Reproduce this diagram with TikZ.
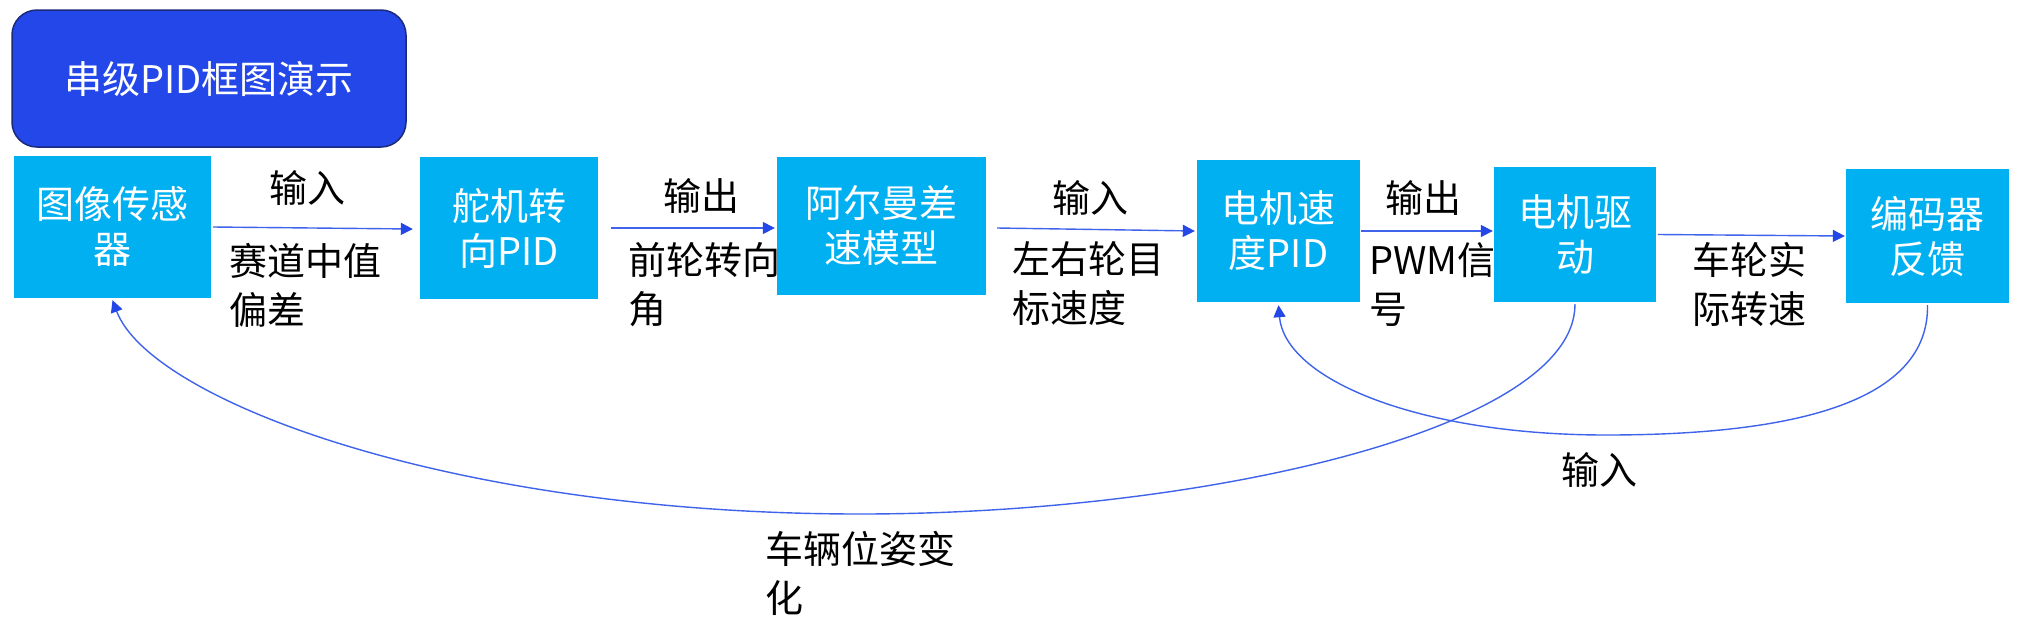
\documentclass[tikz,border=0pt]{standalone}
\usepackage{fontspec}
\newfontfamily\cjk{Noto Sans CJK SC}
\usetikzlibrary{arrows.meta}
\definecolor{boxblue}{HTML}{00B0F0}
\definecolor{titleblue}{HTML}{2347E8}
\definecolor{titleedge}{HTML}{1B2A7A}
\definecolor{arrowblue}{HTML}{2447E8}
\definecolor{lineblue}{HTML}{3F63EA}
\begin{document}
\begin{tikzpicture}[x=1pt,y=-1pt,
  blk/.style={fill=boxblue, draw=none, text=white, font=\cjk\fontsize{38}{45}\selectfont, align=center, inner sep=0pt},
  titlebox/.style={fill=titleblue, draw=titleedge, line width=1.5pt, rounded corners=25pt, text=white, font=\cjk\fontsize{38}{45}\selectfont, inner sep=0pt},
  lbl/.style={text=black, font=\cjk\fontsize{38}{49}\selectfont, align=left, inner sep=0pt},
  arr/.style={draw=lineblue, line width=1.4pt, -{Triangle[length=12pt,width=12pt,color=arrowblue,fill=arrowblue]}},
  ]
\fill[white] (0,0) rectangle (2021,633);

\node[titlebox, minimum width=394pt, minimum height=137pt] (title) at (209,78.5) {串级PID框图演示};

\node[blk, minimum width=197pt, minimum height=142pt] (b1) at (112.5,227) {图像传感\\器};
\node[blk, minimum width=178pt, minimum height=142pt] (b2) at (509,228) {舵机转\\向PID};
\node[blk, minimum width=209pt, minimum height=138pt] (b3) at (881.5,226) {阿尔曼差\\速模型};
\node[blk, minimum width=163pt, minimum height=142pt] (b4) at (1278.5,231) {电机速\\度PID};
\node[blk, minimum width=162pt, minimum height=135pt] (b5) at (1575,234.5) {电机驱\\动};
\node[blk, minimum width=163pt, minimum height=134pt] (b6) at (1927.5,236) {编码器\\反馈};

% straight connectors
\draw[arr] ([xshift=2pt]b1.east) -- ([xshift=-7pt,yshift=-1pt]b2.west);
\draw[arr] ([xshift=13pt]b2.east) -- ([xshift=-2pt,yshift=-2pt]b3.west);
\draw[arr] ([xshift=11pt,yshift=-2pt]b3.east) -- ([xshift=-2pt]b4.west);
\draw[arr] ([xshift=1pt]b4.east) -- ([xshift=-1pt,yshift=3.5pt]b5.west);
\draw[arr] ([xshift=2pt]b5.east) -- ([xshift=-1pt]b6.west);

% feedback curves
\coordinate (c1m) at (860,514);
\coordinate (c2m) at (1606,435);
\draw[arr] ([yshift=-2pt]b5.south) .. controls (1575,430) and (1200,514) .. (c1m)
  .. controls (450,514) and (150,400) .. ([yshift=-2pt]b1.south);
\draw[arr] ([yshift=-2pt]b6.south) .. controls (1929,400) and (1800,435) .. (c2m)
  .. controls (1420,435) and (1285,380) .. ([yshift=-3pt]b4.south);

% labels
\node[lbl] (l1a) at (307,188) {输入};
\node[lbl, anchor=west] (l1b) at (229,285.5) {赛道中值\\偏差};
\node[lbl] (l2a) at (701,196) {输出};
\node[lbl, anchor=west] (l2b) at (628,285) {前轮转向\\角};
\node[lbl] (l3a) at (1090,198) {输入};
\node[lbl, anchor=west] (l3b) at (1012,284) {左右轮目\\标速度};
\node[lbl] (l4a) at (1423,198) {输出};
\node[lbl, anchor=west] (l4b) at (1369,285) {PWM信\\号};
\node[lbl, anchor=west] (l5b) at (1692,284) {车轮实\\际转速};
\node[lbl] (l6) at (1599,470) {输入};
\node[lbl, anchor=west] (l7) at (765,573) {车辆位姿变\\化};
\end{tikzpicture}
\end{document}
